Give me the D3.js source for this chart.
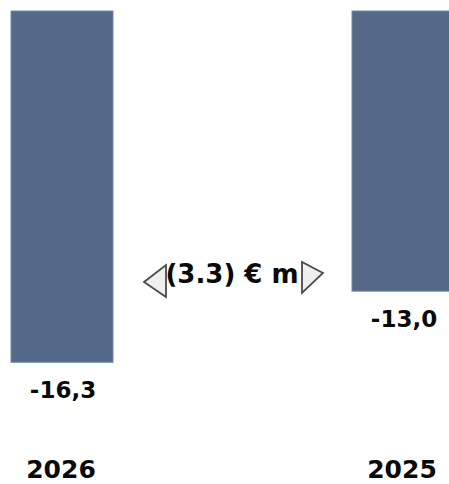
<!DOCTYPE html>
<html><head><meta charset="utf-8">
<script src="https://cdn.jsdelivr.net/npm/d3@7"></script>
<style>body{margin:0;background:#fff;overflow:hidden}svg{display:block}</style>
</head><body>
<script>
const categories = ["2026", "2025"];
const values = [-16.3, -13.0];
const valueLabels = ["-16,3", "-13,0"];
const deltaLabel = "(3.3) € m";

const W = 449, H = 484;
const svg = d3.select("body").append("svg").attr("width", W).attr("height", H);

const x = d3.scalePoint().domain(categories).range([62, 403]);
const bw = 102;
const y = d3.scaleLinear().domain([0, -17]).range([11, 11 + 17 * 21.55]);

const font = "'DejaVu Sans', sans-serif";

svg.selectAll("rect.bar").data(values).join("rect")
  .attr("class", "bar")
  .attr("x", (d, i) => x(categories[i]) - bw / 2)
  .attr("y", y(0))
  .attr("width", bw)
  .attr("height", d => y(d) - y(0))
  .attr("fill", "#546987")
  .attr("stroke", "#7489a6")
  .attr("stroke-width", 1);

svg.selectAll("text.val").data(values).join("text")
  .attr("class", "val")
  .attr("x", (d, i) => x(categories[i]) + 1)
  .attr("y", d => y(d) + 36)
  .attr("text-anchor", "middle")
  .attr("font-family", font).attr("font-weight", 700)
  .attr("font-size", 23).attr("fill", "#0a0a0a")
  .text((d, i) => valueLabels[i]);

svg.selectAll("text.cat").data(categories).join("text")
  .attr("class", "cat")
  .attr("x", d => x(d) - 1)
  .attr("y", 478)
  .attr("text-anchor", "middle")
  .attr("font-family", font).attr("font-weight", 700)
  .attr("font-size", 25).attr("fill", "#0a0a0a")
  .text(d => d);

svg.append("text")
  .attr("x", 232).attr("y", 283)
  .attr("text-anchor", "middle")
  .attr("font-family", font).attr("font-weight", 700)
  .attr("font-size", 26).attr("fill", "#0a0a0a")
  .text(deltaLabel);

svg.append("path")
  .attr("d", "M144,282 L166,265 L166,297 Z")
  .attr("fill", "#efefef").attr("stroke", "#4a4a4a").attr("stroke-width", 1.8);
svg.append("path")
  .attr("d", "M323,273 L302,262 L302,293 Z")
  .attr("fill", "#efefef").attr("stroke", "#4a4a4a").attr("stroke-width", 1.8);
</script>
</body></html>
